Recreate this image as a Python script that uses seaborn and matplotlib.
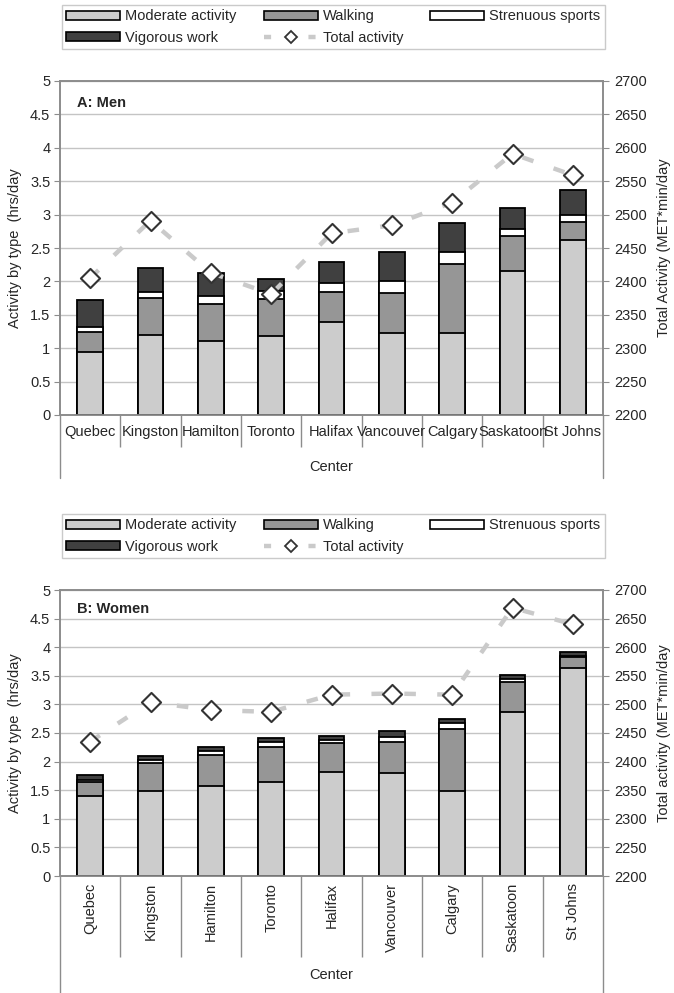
import numpy as np
import pandas as pd
import matplotlib
matplotlib.use("Agg")
import matplotlib.pyplot as plt
from matplotlib.patches import Patch
from matplotlib.lines import Line2D
from matplotlib.ticker import FuncFormatter, MultipleLocator
import seaborn as sns

# ---------------- data ----------------
centers = ["Quebec", "Kingston", "Hamilton", "Toronto", "Halifax",
           "Vancouver", "Calgary", "Saskatoon", "St Johns"]

men_moderate = [0.95, 1.20, 1.11, 1.185, 1.395, 1.235, 1.235, 2.16, 2.625]
men_walking = [0.29, 0.55, 0.555, 0.555, 0.445, 0.59, 1.03, 0.525, 0.26]
men_strenuous = [0.075, 0.09, 0.12, 0.12, 0.135, 0.185, 0.175, 0.10, 0.105]
men_vigorous = [0.41, 0.36, 0.34, 0.18, 0.315, 0.43, 0.435, 0.315, 0.375]
men_total = [2405, 2491, 2413, 2381, 2472, 2484, 2518, 2591, 2559]

women_moderate = [1.40, 1.48, 1.565, 1.65, 1.81, 1.80, 1.49, 2.87, 3.64]
women_walking = [0.24, 0.495, 0.55, 0.605, 0.515, 0.535, 1.085, 0.52, 0.19]
women_strenuous = [0.04, 0.05, 0.075, 0.095, 0.06, 0.095, 0.10, 0.06, 0.01]
women_vigorous = [0.09, 0.065, 0.06, 0.065, 0.07, 0.10, 0.075, 0.06, 0.07]
women_total = [2435, 2504, 2490, 2487, 2517, 2519, 2517, 2669, 2640]

series_names = ["Moderate activity", "Walking", "Strenuous sports", "Vigorous work"]
line_name = "Total activity"

# ---------------- style ----------------
sns.set_style("white")
plt.rcParams["font.family"] = ["Liberation Sans", "DejaVu Sans"]
plt.rcParams["font.size"] = 10.5

COL = {"Moderate activity": "#cccccc", "Walking": "#969696",
       "Strenuous sports": "#ffffff", "Vigorous work": "#404040"}
LINE_COL = "#cacaca"
MARK_EDGE = "#333333"
GRID = "#c4c4c4"
SPINE = "#8c8c8c"
FS = 10.5

fig = plt.figure(figsize=(6.74, 9.93), dpi=100)
W, H = 674.0, 993.0


def fx(px):
    return px / W


def fy(py):
    return 1 - py / H


def panel(rect, moderate, walking, strenuous, vigorous, total, title, rlabel,
          rotate, sep_len, outer_len, xlabelpad, tickpad):
    ax = fig.add_axes(rect)
    df = pd.DataFrame({"Center": centers, "Moderate activity": moderate,
                       "Walking": walking, "Strenuous sports": strenuous,
                       "Vigorous work": vigorous})
    cum = df[series_names].cumsum(axis=1)
    # draw from the top of the stack downwards so each layer covers the next
    for name in series_names[::-1]:
        sns.barplot(x=df["Center"], y=cum[name], order=centers, color=COL[name],
                    saturation=1, edgecolor="black", linewidth=1.3, width=0.42,
                    errorbar=None, ax=ax, zorder=3)
    ax.set_ylim(0, 5)
    ax.set_xlim(-0.5, len(centers) - 0.5)
    ax.yaxis.set_major_locator(MultipleLocator(0.5))
    ax.yaxis.set_major_formatter(FuncFormatter(lambda v, p: f"{v:g}"))
    ax.set_axisbelow(True)
    ax.yaxis.grid(True, color=GRID, lw=1.0)
    ax.xaxis.grid(False)
    ax.set_ylabel("Activity by type  (hrs/day", fontsize=FS, labelpad=6)
    ax.tick_params(axis="y", which="major", length=4, color=SPINE,
                   labelsize=FS, pad=3, left=True)

    # category axis: separators at boundaries, labels at centers
    n = len(centers)
    ax.set_xticks(np.arange(0.5, n - 1, 1.0))
    ax.set_xticklabels([])
    ax.tick_params(axis="x", which="major", length=sep_len, color=SPINE,
                   width=1.0, bottom=True)
    ax.set_xticks(np.arange(n), minor=True)
    ax.set_xticklabels(centers, minor=True, rotation=90 if rotate else 0,
                       fontsize=FS)
    ax.tick_params(axis="x", which="minor", length=0, pad=tickpad)
    for xb in (-0.5, n - 0.5):
        ax.axvline(xb, ymin=-outer_len, ymax=0, color=SPINE, lw=1.0,
                   clip_on=False)
    ax.set_xlabel("Center", fontsize=FS, labelpad=xlabelpad)

    for s in ax.spines.values():
        s.set_color(SPINE)
        s.set_linewidth(1.2)

    ax.text(0.031, 0.935, title, transform=ax.transAxes, fontsize=FS,
            fontweight="bold", va="center", ha="left")

    # secondary axis: total activity
    ax2 = ax.twinx()
    xs = np.arange(n)
    sns.lineplot(x=xs, y=total, ax=ax2, color=LINE_COL, lw=3.2, zorder=4,
                 legend=False)
    ax2.lines[-1].set_dashes([2.6, 4.8])
    sns.scatterplot(x=xs, y=total, ax=ax2, marker="D", s=95,
                    facecolor="white", edgecolor=MARK_EDGE, linewidth=1.5,
                    zorder=6, legend=False)
    ax2.set_ylim(2200, 2700)
    ax2.set_xlim(-0.5, n - 0.5)
    ax2.yaxis.set_major_locator(MultipleLocator(50))
    ax2.set_ylabel(rlabel, fontsize=FS, labelpad=7)
    ax2.tick_params(axis="y", length=4, color=SPINE, labelsize=FS, pad=4,
                    right=True)
    for s in ax2.spines.values():
        s.set_color(SPINE)
        s.set_linewidth(1.2)
    return ax, ax2


# top panel: plot area x 60..603, y 81..415
ax1, _ = panel([fx(60), fy(415), fx(603) - fx(60), fy(81) - fy(415)],
               men_moderate, men_walking, men_strenuous, men_vigorous,
               men_total, "A: Men", "Total Activity (MET*min/day",
               rotate=False, sep_len=23, outer_len=0.19, xlabelpad=6,
               tickpad=7)

# bottom panel: plot area x 60..603, y 590..876
ax3, _ = panel([fx(60), fy(876), fx(603) - fx(60), fy(590) - fy(876)],
               women_moderate, women_walking, women_strenuous, women_vigorous,
               women_total, "B: Women", "Total activity (MET*min/day",
               rotate=True, sep_len=58, outer_len=0.41, xlabelpad=5,
               tickpad=5)

# legends
def make_handles():
    hs = {name: Patch(facecolor=COL[name], edgecolor="black", lw=1.2)
          for name in series_names}
    hs[line_name] = Line2D([], [], color=LINE_COL, lw=3.2, dashes=[1.6, 3.4],
                           marker="D", markersize=6.5, markerfacecolor="white",
                           markeredgecolor=MARK_EDGE, markeredgewidth=1.3)
    order = ["Moderate activity", "Vigorous work", "Walking", line_name,
             "Strenuous sports"]
    return [hs[k] for k in order], order


for top, bottom in ((5, 52), (514, 561)):
    handles, labels = make_handles()
    leg = fig.legend(handles, labels, ncol=3, loc="upper left", mode="expand",
                     bbox_to_anchor=(fx(62), fy(bottom), fx(605) - fx(62),
                                     fy(top) - fy(bottom)),
                     borderaxespad=0, fontsize=FS, frameon=True,
                     fancybox=False, edgecolor="#bdbdbd", handlelength=3.7,
                     handleheight=0.55, handletextpad=0.35, labelspacing=0.5,
                     borderpad=0.3, columnspacing=1.0)
    leg.get_frame().set_linewidth(1.0)

fig.savefig("out.png", dpi=100)
